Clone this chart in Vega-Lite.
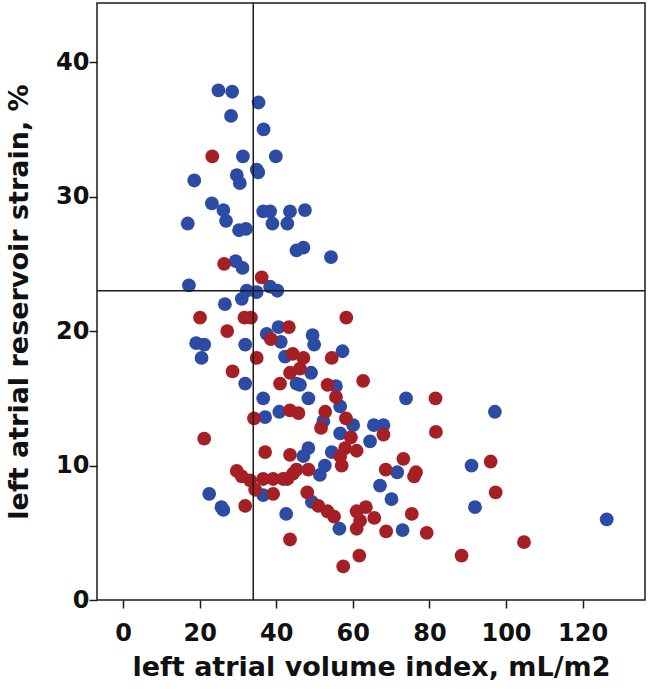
{
  "$schema": "https://vega.github.io/schema/vega-lite/v6.json",
  "width": 548,
  "height": 597,
  "autosize": {"type": "none"},
  "padding": {"left": 97, "top": 3, "right": 7, "bottom": 89},
  "background": "white",
  "config": {
    "view": {"stroke": "#1a1a1a", "strokeWidth": 1.5},
    "font": "DejaVu Sans",
    "axis": {
      "grid": false,
      "domain": false,
      "tickColor": "#1a1a1a",
      "tickWidth": 1.5,
      "tickSize": 8,
      "labelFont": "DejaVu Sans",
      "labelFontSize": 24,
      "labelFontWeight": "bold",
      "labelColor": "#111",
      "titleFont": "DejaVu Sans",
      "titleFontSize": 27,
      "titleFontWeight": "bold",
      "titleColor": "#111"
    }
  },
  "datasets": {
    "pts": [
      {"lavi": 24.9, "strain": 37.9, "g": "A"},
      {"lavi": 28.5, "strain": 37.8, "g": "A"},
      {"lavi": 35.4, "strain": 37.0, "g": "A"},
      {"lavi": 28.2, "strain": 36.0, "g": "A"},
      {"lavi": 36.7, "strain": 35.0, "g": "A"},
      {"lavi": 31.3, "strain": 33.0, "g": "A"},
      {"lavi": 39.9, "strain": 33.0, "g": "A"},
      {"lavi": 34.9, "strain": 32.0, "g": "A"},
      {"lavi": 35.3, "strain": 31.8, "g": "A"},
      {"lavi": 29.7, "strain": 31.6, "g": "A"},
      {"lavi": 30.5, "strain": 31.0, "g": "A"},
      {"lavi": 18.6, "strain": 31.2, "g": "A"},
      {"lavi": 23.2, "strain": 29.5, "g": "A"},
      {"lavi": 26.2, "strain": 29.0, "g": "A"},
      {"lavi": 26.9, "strain": 28.2, "g": "A"},
      {"lavi": 16.9, "strain": 28.0, "g": "A"},
      {"lavi": 30.3, "strain": 27.5, "g": "A"},
      {"lavi": 32.1, "strain": 27.6, "g": "A"},
      {"lavi": 36.6, "strain": 28.9, "g": "A"},
      {"lavi": 38.4, "strain": 28.9, "g": "A"},
      {"lavi": 39.0, "strain": 28.0, "g": "A"},
      {"lavi": 43.6, "strain": 28.9, "g": "A"},
      {"lavi": 42.9, "strain": 28.0, "g": "A"},
      {"lavi": 47.5, "strain": 29.0, "g": "A"},
      {"lavi": 45.3, "strain": 26.0, "g": "A"},
      {"lavi": 47.1, "strain": 26.2, "g": "A"},
      {"lavi": 54.3, "strain": 25.5, "g": "A"},
      {"lavi": 29.4, "strain": 25.2, "g": "A"},
      {"lavi": 31.2, "strain": 24.7, "g": "A"},
      {"lavi": 17.2, "strain": 23.4, "g": "A"},
      {"lavi": 32.3, "strain": 23.0, "g": "A"},
      {"lavi": 34.9, "strain": 22.9, "g": "A"},
      {"lavi": 38.4, "strain": 23.3, "g": "A"},
      {"lavi": 40.3, "strain": 23.0, "g": "A"},
      {"lavi": 26.6, "strain": 22.0, "g": "A"},
      {"lavi": 31.0, "strain": 22.4, "g": "A"},
      {"lavi": 40.6, "strain": 20.3, "g": "A"},
      {"lavi": 37.5, "strain": 19.8, "g": "A"},
      {"lavi": 41.2, "strain": 19.2, "g": "A"},
      {"lavi": 19.1, "strain": 19.1, "g": "A"},
      {"lavi": 21.2, "strain": 19.0, "g": "A"},
      {"lavi": 20.5, "strain": 18.0, "g": "A"},
      {"lavi": 31.9, "strain": 19.0, "g": "A"},
      {"lavi": 31.9, "strain": 16.1, "g": "A"},
      {"lavi": 45.3, "strain": 16.1, "g": "A"},
      {"lavi": 46.2, "strain": 16.0, "g": "A"},
      {"lavi": 36.6, "strain": 15.0, "g": "A"},
      {"lavi": 49.5, "strain": 19.7, "g": "A"},
      {"lavi": 49.9, "strain": 19.0, "g": "A"},
      {"lavi": 57.3, "strain": 18.5, "g": "A"},
      {"lavi": 42.3, "strain": 18.1, "g": "A"},
      {"lavi": 49.1, "strain": 16.9, "g": "A"},
      {"lavi": 55.6, "strain": 15.9, "g": "A"},
      {"lavi": 48.4, "strain": 15.0, "g": "A"},
      {"lavi": 56.7, "strain": 14.4, "g": "A"},
      {"lavi": 40.8, "strain": 14.0, "g": "A"},
      {"lavi": 37.1, "strain": 13.6, "g": "A"},
      {"lavi": 52.3, "strain": 13.3, "g": "A"},
      {"lavi": 60.1, "strain": 13.0, "g": "A"},
      {"lavi": 56.7, "strain": 12.4, "g": "A"},
      {"lavi": 73.9, "strain": 15.0, "g": "A"},
      {"lavi": 65.5, "strain": 13.0, "g": "A"},
      {"lavi": 68.0, "strain": 13.0, "g": "A"},
      {"lavi": 64.5, "strain": 11.8, "g": "A"},
      {"lavi": 97.1, "strain": 14.0, "g": "A"},
      {"lavi": 91.0, "strain": 10.0, "g": "A"},
      {"lavi": 91.9, "strain": 6.9, "g": "A"},
      {"lavi": 126.3, "strain": 6.0, "g": "A"},
      {"lavi": 48.4, "strain": 11.3, "g": "A"},
      {"lavi": 47.1, "strain": 10.7, "g": "A"},
      {"lavi": 54.5, "strain": 11.0, "g": "A"},
      {"lavi": 52.7, "strain": 10.0, "g": "A"},
      {"lavi": 71.6, "strain": 9.5, "g": "A"},
      {"lavi": 51.4, "strain": 9.3, "g": "A"},
      {"lavi": 67.1, "strain": 8.5, "g": "A"},
      {"lavi": 70.1, "strain": 7.5, "g": "A"},
      {"lavi": 49.3, "strain": 7.3, "g": "A"},
      {"lavi": 56.5, "strain": 5.3, "g": "A"},
      {"lavi": 73.0, "strain": 5.2, "g": "A"},
      {"lavi": 36.6, "strain": 7.8, "g": "A"},
      {"lavi": 22.5, "strain": 7.9, "g": "A"},
      {"lavi": 25.7, "strain": 6.9, "g": "A"},
      {"lavi": 26.2, "strain": 6.7, "g": "A"},
      {"lavi": 42.6, "strain": 6.4, "g": "A"},
      {"lavi": 23.3, "strain": 33.0, "g": "B"},
      {"lavi": 26.4, "strain": 25.0, "g": "B"},
      {"lavi": 36.2, "strain": 24.0, "g": "B"},
      {"lavi": 20.1, "strain": 21.0, "g": "B"},
      {"lavi": 31.7, "strain": 21.0, "g": "B"},
      {"lavi": 33.4, "strain": 21.0, "g": "B"},
      {"lavi": 27.2, "strain": 20.0, "g": "B"},
      {"lavi": 43.3, "strain": 20.3, "g": "B"},
      {"lavi": 38.6, "strain": 19.4, "g": "B"},
      {"lavi": 34.9, "strain": 18.0, "g": "B"},
      {"lavi": 44.3, "strain": 18.3, "g": "B"},
      {"lavi": 47.1, "strain": 18.0, "g": "B"},
      {"lavi": 46.2, "strain": 17.2, "g": "B"},
      {"lavi": 43.6, "strain": 16.9, "g": "B"},
      {"lavi": 28.6, "strain": 17.0, "g": "B"},
      {"lavi": 41.0, "strain": 16.1, "g": "B"},
      {"lavi": 58.3, "strain": 21.0, "g": "B"},
      {"lavi": 54.5, "strain": 18.0, "g": "B"},
      {"lavi": 62.7, "strain": 16.3, "g": "B"},
      {"lavi": 53.4, "strain": 16.0, "g": "B"},
      {"lavi": 55.6, "strain": 15.1, "g": "B"},
      {"lavi": 43.6, "strain": 14.1, "g": "B"},
      {"lavi": 45.8, "strain": 13.9, "g": "B"},
      {"lavi": 52.8, "strain": 14.0, "g": "B"},
      {"lavi": 34.2, "strain": 13.5, "g": "B"},
      {"lavi": 58.2, "strain": 13.5, "g": "B"},
      {"lavi": 51.7, "strain": 12.8, "g": "B"},
      {"lavi": 59.5, "strain": 12.1, "g": "B"},
      {"lavi": 81.6, "strain": 15.0, "g": "B"},
      {"lavi": 68.0, "strain": 12.3, "g": "B"},
      {"lavi": 81.7, "strain": 12.5, "g": "B"},
      {"lavi": 96.0, "strain": 10.3, "g": "B"},
      {"lavi": 97.3, "strain": 8.0, "g": "B"},
      {"lavi": 104.7, "strain": 4.3, "g": "B"},
      {"lavi": 88.4, "strain": 3.3, "g": "B"},
      {"lavi": 58.0, "strain": 11.3, "g": "B"},
      {"lavi": 61.0, "strain": 11.1, "g": "B"},
      {"lavi": 56.7, "strain": 10.7, "g": "B"},
      {"lavi": 57.1, "strain": 10.0, "g": "B"},
      {"lavi": 43.6, "strain": 10.8, "g": "B"},
      {"lavi": 73.2, "strain": 10.5, "g": "B"},
      {"lavi": 68.6, "strain": 9.7, "g": "B"},
      {"lavi": 76.5, "strain": 9.5, "g": "B"},
      {"lavi": 76.0, "strain": 9.2, "g": "B"},
      {"lavi": 45.3, "strain": 9.7, "g": "B"},
      {"lavi": 48.4, "strain": 9.7, "g": "B"},
      {"lavi": 42.9, "strain": 9.0, "g": "B"},
      {"lavi": 48.1, "strain": 8.0, "g": "B"},
      {"lavi": 51.0, "strain": 7.0, "g": "B"},
      {"lavi": 53.4, "strain": 6.6, "g": "B"},
      {"lavi": 55.1, "strain": 6.2, "g": "B"},
      {"lavi": 61.0, "strain": 6.6, "g": "B"},
      {"lavi": 63.4, "strain": 6.9, "g": "B"},
      {"lavi": 61.9, "strain": 5.9, "g": "B"},
      {"lavi": 65.6, "strain": 6.1, "g": "B"},
      {"lavi": 61.0, "strain": 5.3, "g": "B"},
      {"lavi": 75.4, "strain": 6.4, "g": "B"},
      {"lavi": 68.7, "strain": 5.1, "g": "B"},
      {"lavi": 79.3, "strain": 5.0, "g": "B"},
      {"lavi": 61.7, "strain": 3.3, "g": "B"},
      {"lavi": 57.5, "strain": 2.5, "g": "B"},
      {"lavi": 43.6, "strain": 4.5, "g": "B"},
      {"lavi": 37.1, "strain": 11.0, "g": "B"},
      {"lavi": 21.2, "strain": 12.0, "g": "B"},
      {"lavi": 29.7, "strain": 9.6, "g": "B"},
      {"lavi": 31.0, "strain": 9.2, "g": "B"},
      {"lavi": 33.2, "strain": 8.9, "g": "B"},
      {"lavi": 34.5, "strain": 8.2, "g": "B"},
      {"lavi": 36.6, "strain": 9.0, "g": "B"},
      {"lavi": 39.2, "strain": 9.0, "g": "B"},
      {"lavi": 41.8, "strain": 9.0, "g": "B"},
      {"lavi": 44.4, "strain": 9.4, "g": "B"},
      {"lavi": 39.2, "strain": 7.9, "g": "B"},
      {"lavi": 31.9, "strain": 7.0, "g": "B"}
    ],
    "vref": [{"lavi": 34}],
    "href": [{"strain": 23}]
  },
  "layer": [
    {
      "data": {"name": "pts"},
      "mark": {"type": "circle", "size": 190, "opacity": 1},
      "encoding": {
        "x": {
          "field": "lavi", "type": "quantitative",
          "scale": {"domain": [-6.8, 136.3], "nice": false, "zero": false},
          "axis": {"values": [0, 20, 40, 60, 80, 100, 120], "title": "left atrial volume index, mL/m2", "labelPadding": 13, "titlePadding": 9}
        },
        "y": {
          "field": "strain", "type": "quantitative",
          "scale": {"domain": [0, 44.4], "nice": false, "zero": false},
          "axis": {"values": [0, 10, 20, 30, 40], "title": "left atrial reservoir strain, %", "labelPadding": 0, "titlePadding": 22}
        },
        "color": {
          "field": "g", "type": "nominal",
          "scale": {"domain": ["A", "B"], "range": ["#2c4ba5", "#a51f24"]},
          "legend": null
        }
      }
    },
    {
      "data": {"name": "vref"},
      "mark": {"type": "rule", "color": "#1a1a1a", "strokeWidth": 1.5},
      "encoding": {"x": {"field": "lavi", "type": "quantitative"}}
    },
    {
      "data": {"name": "href"},
      "mark": {"type": "rule", "color": "#1a1a1a", "strokeWidth": 1.5},
      "encoding": {"y": {"field": "strain", "type": "quantitative"}}
    }
  ]
}
